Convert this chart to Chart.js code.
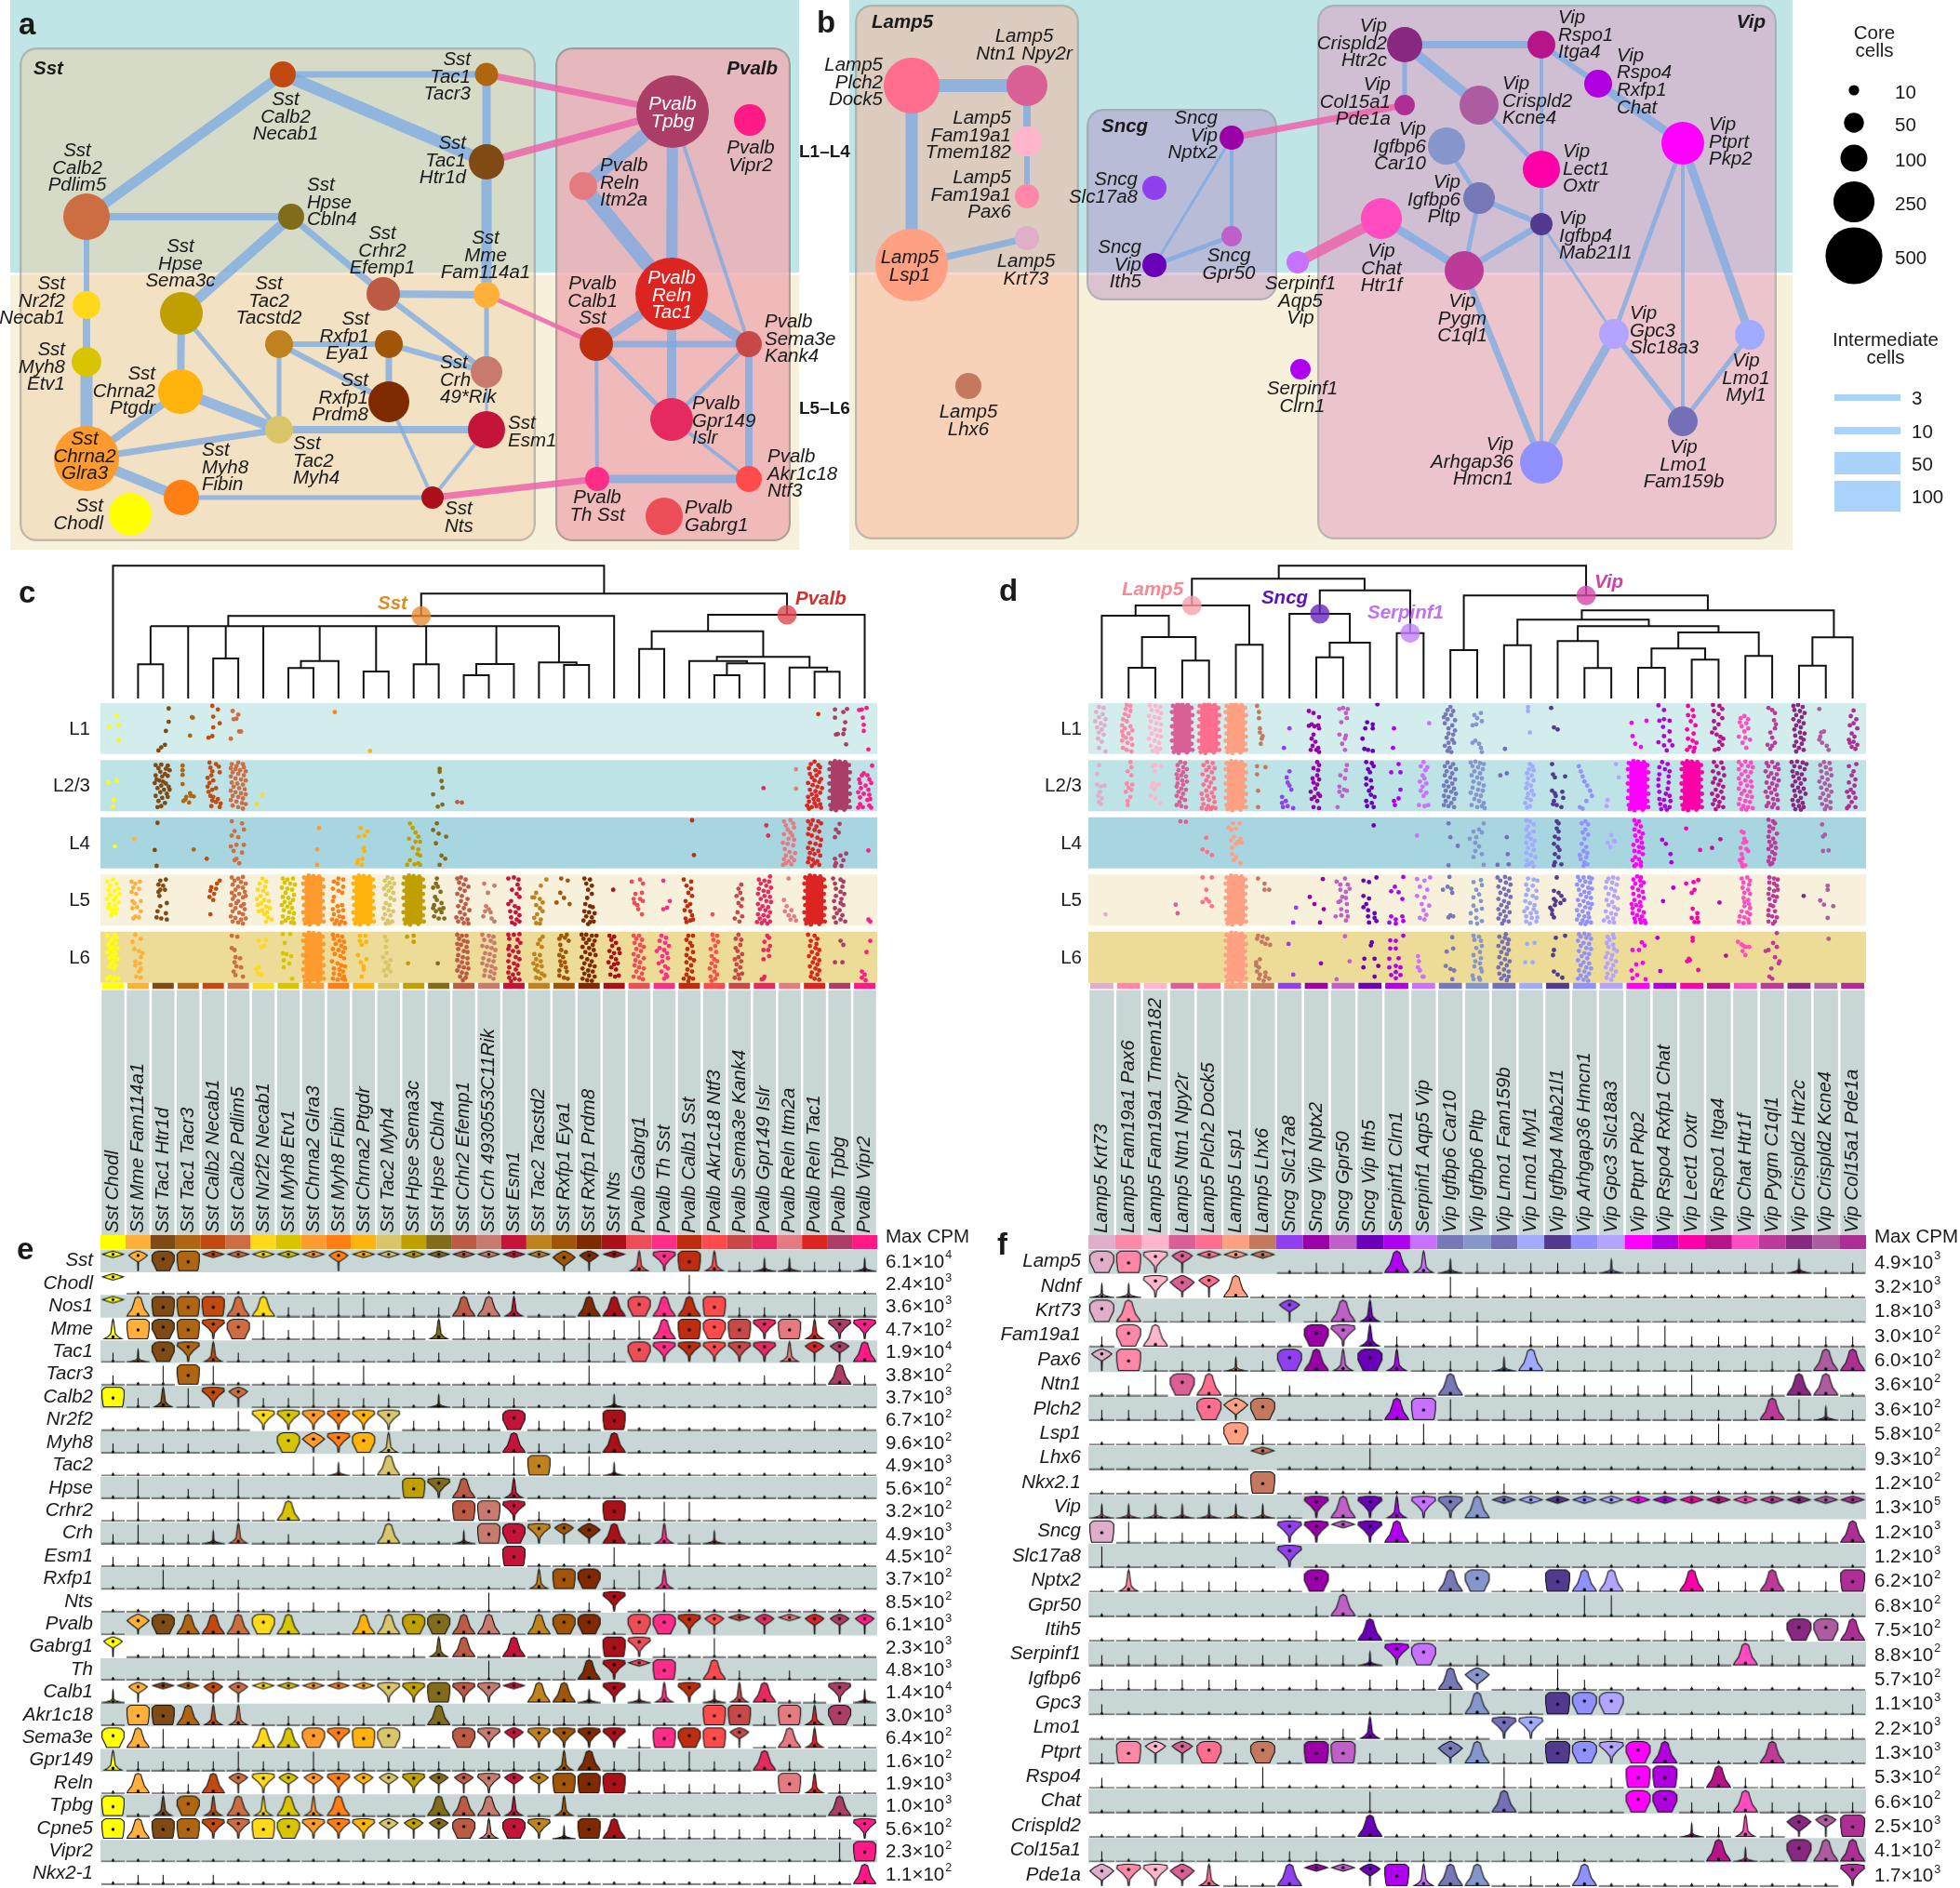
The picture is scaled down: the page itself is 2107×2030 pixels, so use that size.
<!DOCTYPE html>
<html>
<head>
<meta charset="utf-8">
<title>Interneuron types</title>
<script src="https://cdn.jsdelivr.net/npm/chart.js@4"></script>
<style>
body { margin: 0; background: #fff; width: 2107px; height: 2030px; overflow: hidden; position: relative; }
canvas { position: absolute; }
</style>
</head>
<body>
<script>
// ---------- panels a, b: network nodes ----------
const nodeIds = ['Necab1','Tacr3','Tpbg','Vipr2','Htr1d','Pdlim5','Cbln4','Itm2a','Efemp1','Mme','RelnTac1','Nr2f2','Sema3c','Tacstd2','Eya1','Calb1','Kank4','Crh','Etv1','Ptgdr','Prdm8','Islr','Esm1','Myh4','Glra3','Fibin','Nts','ThSst','Ntf3','Gabrg1','Chodl',
  'Dock5','Npy2r','Tmem182','Pax6','Lsp1','Krt73','Lhx6','Slc17a8','Nptx2','Gpr50','Ith5','Aqp5','Clrn1','Htr2c','Itga4','Rspo4','Pde1a','Kcne4','Car10','Pkp2','Oxtr','Pltp','Mab21l1','Htr1f','C1ql1','Slc18a3','Myl1','Fam159b','Hmcn1'];
const nodeX = [304,523,723,806,523,93,313,627,412,523,722,93,195,300,418,641,805,523,93,194,418,722,523,300,93,195,465,642,805,714,140,
  980,1104,1104,1104,980,1104,1041,1241,1324,1324,1241,1395,1398,1510,1657,1718,1510,1590,1555,1809,1657,1590,1657,1485,1574,1735,1881,1809,1657];
const nodeY = [80,80,120,129,174,233,233,200,316,317,316,328,337,370,370,370,370,400,389,421,432,451,462,462,493,535,535,515,515,555,553,
  92,92,152,211,285,256,415,202,148,254,285,282,397,48,48,90,113,113,157,154,182,213,241,235,291,359,360,453,497];
const nodeCells = [92,71,832,142,181,327,92,108,161,92,832,108,273,108,108,161,92,142,124,300,249,273,202,108,664,181,65,78,92,202,273,
  481,249,124,78,832,78,92,78,78,53,78,65,53,181,108,108,53,225,202,273,202,142,65,249,225,124,124,124,273];
const nodeColors = ['#c24a10','#b06510','#ab3d66','#ff1a86','#7f4a14','#cd6e42','#806c1a','#e57b80','#bc5a44','#ffb03a','#dc2420','#ffd91a','#c0a000','#c0821e','#a05508','#bf2d10','#c84848','#c87a6e','#d8c400','#ffb30d','#7f2a00','#e62a60','#c5143a','#d9c66a','#ff9a2e','#ff7f14','#aa1018','#ff2d88','#ff4b4b','#ec4d56','#ffff00',
  '#ff6e8e','#d95f95','#ffb6cc','#ff88a8','#ffa083','#dfaec9','#c4785e','#9040ee','#9b00a8','#bf5fc8','#6a00b8','#c870ff','#b000f0','#882880','#b8148a','#b000e0','#ae2e96','#ad5ca0','#8496cc','#ff00ff','#ff00a8','#7678b8','#523a90','#ff4cc0','#bd3a98','#b2a4ff','#a0aaff','#7470b8','#9090ff'];

// from, to, weight
const blueEdges = [['Pdlim5','Necab1',11],['Necab1','Tacr3',7],['Necab1','Htr1d',13],['Tacr3','Htr1d',9],['Htr1d','Mme',11],['Pdlim5','Cbln4',8],['Pdlim5','Nr2f2',6],['Cbln4','Sema3c',11],['Cbln4','Efemp1',7],['Efemp1','Mme',8],['Mme','Crh',5],['Efemp1','Crh',6],['Nr2f2','Etv1',8],['Etv1','Glra3',13],['Sema3c','Ptgdr',8],['Sema3c','Myh4',5],['Tacstd2','Eya1',6],['Tacstd2','Prdm8',6],['Tacstd2','Myh4',5],['Eya1','Crh',6],['Eya1','Prdm8',7],['Ptgdr','Myh4',11],['Ptgdr','Glra3',8],['Myh4','Esm1',8],['Myh4','Glra3',7],['Glra3','Fibin',11],['Fibin','Nts',5],['Prdm8','Nts',4],['Esm1','Nts',4],['Crh','Esm1',3],
  ['Tpbg','Itm2a',14],['Itm2a','RelnTac1',16],['Tpbg','RelnTac1',12],['Tpbg','Kank4',4],['RelnTac1','Calb1',10],['RelnTac1','Kank4',12],['Calb1','Kank4',7],['RelnTac1','Islr',10],['Calb1','Islr',5],['Kank4','Islr',5],['Kank4','Ntf3',8],['Islr','Ntf3',4],['Calb1','ThSst',4],['ThSst','Ntf3',9],
  ['Dock5','Npy2r',14],['Dock5','Lsp1',13],['Npy2r','Tmem182',8],['Tmem182','Pax6',6],['Lsp1','Krt73',7],['Nptx2','Ith5',3],['Nptx2','Gpr50',4],['Ith5','Gpr50',5],
  ['Htr2c','Itga4',8],['Htr2c','Pde1a',5],['Htr2c','Kcne4',11],['Kcne4','Oxtr',5],['Itga4','Oxtr',4],['Itga4','Rspo4',6],['Rspo4','Pkp2',9],['Oxtr','Mab21l1',4],['Mab21l1','Hmcn1',4],['Car10','Pltp',5],['Pltp','Mab21l1',6],['Pltp','C1ql1',5],['Htr1f','C1ql1',9],['C1ql1','Mab21l1',7],['Mab21l1','Slc18a3',3],['C1ql1','Hmcn1',7],['Slc18a3','Hmcn1',9],['Slc18a3','Fam159b',6],['Pkp2','Slc18a3',5],['Pkp2','Fam159b',4],['Pkp2','Myl1',9],['Myl1','Fam159b',5]];
const pinkEdges = [['Tacr3','Tpbg',7],['Htr1d','Tpbg',8],['Mme','Calb1',5],['Nts','ThSst',7],['Nptx2','Pde1a',7],['Aqp5','Htr1f',11]];

// text, x, y, anchor
const netLabels = [
  ['Sst|Calb2|Necab1',307,126,'center'],['Sst|Tac1|Tacr3',506,83,'right'],['Pvalb|Vipr2',807,169,'center'],['Sst|Tac1|Htr1d',501,173,'right'],['Sst|Calb2|Pdlim5',83,181,'center'],['Sst|Hpse|Cbln4',330,218,'left'],['Pvalb|Reln|Itm2a',645,197,'left'],['Sst|Crhr2|Efemp1',411,270,'center'],['Sst|Mme|Fam114a1',522,275,'center'],['Sst|Nr2f2|Necab1',70,324,'right'],['Sst|Hpse|Sema3c',194,284,'center'],['Sst|Tac2|Tacstd2',289,324,'center'],['Sst|Rxfp1|Eya1',397,362,'right'],['Pvalb|Calb1|Sst',637,324,'center'],['Pvalb|Sema3e|Kank4',822,365,'left'],['Sst|Crh|49*Rik',473,409,'left'],['Sst|Myh8|Etv1',70,395,'right'],['Sst|Chrna2|Ptgdr',167,421,'right'],['Sst|Rxfp1|Prdm8',396,428,'right'],['Pvalb|Gpr149|Islr',744,453,'left'],['Sst|Esm1',546,465,'left'],['Sst|Tac2|Myh4',315,496,'left'],['Sst|Chrna2|Glra3',91,491,'center'],['Sst|Myh8|Fibin',217,503,'left'],['Sst|Nts',478,557,'left'],['Pvalb|Th Sst',642,545,'center'],['Pvalb|Akr1c18|Ntf3',825,510,'left'],['Pvalb|Gabrg1',736,556,'left'],['Sst|Chodl',111,554,'right'],
  ['Lamp5|Plch2|Dock5',949,89,'right'],['Lamp5|Ntn1 Npy2r',1101,49,'center'],['Lamp5|Fam19a1|Tmem182',1087,146,'right'],['Lamp5|Fam19a1|Pax6',1087,210,'right'],['Lamp5|Lsp1',978,287,'center'],['Lamp5|Krt73',1103,291,'center'],['Lamp5|Lhx6',1041,453,'center'],['Sncg|Slc17a8',1223,203,'right'],['Sncg|Vip|Nptx2',1309,146,'right'],['Sncg|Gpr50',1321,285,'center'],['Sncg|Vip|Ith5',1227,285,'right'],['Serpinf1|Aqp5|Vip',1398,324,'center'],['Serpinf1|Clrn1',1400,428,'center'],['Vip|Crispld2|Htr2c',1491,47,'right'],['Vip|Rspo1|Itga4',1675,38,'left'],['Vip|Rspo4|Rxfp1|Chat',1738,88,'left'],['Vip|Col15a1|Pde1a',1495,110,'right'],['Vip|Crispld2|Kcne4',1615,109,'left'],['Vip|Igfbp6|Car10',1533,158,'right'],['Vip|Ptprt|Pkp2',1837,153,'left'],['Vip|Lect1|Oxtr',1680,182,'left'],['Vip|Igfbp6|Pltp',1570,215,'right'],['Vip|Igfbp4|Mab21l1',1676,254,'left'],['Vip|Chat|Htr1f',1485,289,'center'],['Vip|Pygm|C1ql1',1572,343,'center'],['Vip|Gpc3|Slc18a3',1752,356,'left'],['Vip|Lmo1|Myl1',1877,407,'center'],['Vip|Lmo1|Fam159b',1810,500,'center'],['Vip|Arhgap36|Hmcn1',1627,497,'right']];
const whiteLabels = [['Pvalb|Tpbg',723,122],['Pvalb|Reln|Tac1',722,318]];

const coreLegend = [10,50,100,250,500];
const coreLegendY = [97,132,170,217,275];
const edgeLegend = [3,10,50,100];
const edgeLegendTop = [424,459,486,517];
const edgeLegendBottom = [431,467,510,550];

// ---------- panels c, e: clusters ----------
const clustersC = ['Sst Chodl','Sst Mme Fam114a1','Sst Tac1 Htr1d','Sst Tac1 Tacr3','Sst Calb2 Necab1','Sst Calb2 Pdlim5','Sst Nr2f2 Necab1','Sst Myh8 Etv1','Sst Chrna2 Glra3','Sst Myh8 Fibin','Sst Chrna2 Ptgdr','Sst Tac2 Myh4','Sst Hpse Sema3c','Sst Hpse Cbln4','Sst Crhr2 Efemp1','Sst Crh 4930553C11Rik','Sst Esm1','Sst Tac2 Tacstd2','Sst Rxfp1 Eya1','Sst Rxfp1 Prdm8','Sst Nts','Pvalb Gabrg1','Pvalb Th Sst','Pvalb Calb1 Sst','Pvalb Akr1c18 Ntf3','Pvalb Sema3e Kank4','Pvalb Gpr149 Islr','Pvalb Reln Itm2a','Pvalb Reln Tac1','Pvalb Tpbg','Pvalb Vipr2'];
const colorsC = ['#ffff00','#ffb03a','#7f4a14','#b06510','#c24a10','#cd6e42','#ffd91a','#d8c400','#ff9a2e','#ff7f14','#ffb30d','#d9c66a','#c0a000','#806c1a','#bc5a44','#c87a6e','#c5143a','#c0821e','#a05508','#7f2a00','#aa1018','#ec4d56','#ff2d88','#bf2d10','#ff4b4b','#c84848','#e62a60','#e57b80','#dc2420','#ab3d66','#ff1a86'];
const genesE = ['Sst','Chodl','Nos1','Mme','Tac1','Tacr3','Calb2','Nr2f2','Myh8','Tac2','Hpse','Crhr2','Crh','Esm1','Rxfp1','Nts','Pvalb','Gabrg1','Th','Calb1','Akr1c18','Sema3e','Gpr149','Reln','Tpbg','Cpne5','Vipr2','Nkx2-1'];
const maxCpmE = [6.1e4,2.4e3,3.6e3,4.7e2,1.9e4,3.8e2,3.7e3,6.7e2,9.6e2,4.9e3,5.6e2,3.2e2,4.9e3,4.5e2,3.7e2,8.5e2,6.1e3,2.3e3,4.8e3,1.4e4,3.0e3,6.4e2,1.6e2,1.9e3,1.0e3,5.6e2,2.3e2,1.1e2];
// violin shape per cluster: . : | stems, k s t low bells, b h blocks, f d D l top-heavy
const violinE = [
 'ldhbl lllld lllll lllDd lsfbs :kk:: k',
 'l.... ..... ..... ..... ...|. ..... .',
 'ltbbb tt::| |:::t ts..t thttb ::.|: :',
 'sbhbf h|:|| .::s| :::|| :|tbh bfbsf f',
 ':khfs :.:.: ..::. :.::| :hfff ffsdd t',
 ':.|b| ..:|. |.... .:..| ..... .:.|t :',
 'b:s|f d::|: ::.k: ::... k.... ..... .',
 '..::: |ffff ff::: :h::: b.... ...:. .',
 '::::. :.hDf hs::: :t::: t.... ..... .',
 '..... ...|k |t.:. .|b:| k.... ..... .',
 '.|.:: |.... ..bft .s... ..... ..... .',
 ':|.:: |:t.: ::..b bf:.. b:||. ..... .',
 ':|::k s.:.. .t..k bhfdD t:s:k ..... .',
 '::::: ::::: :.:.: :b... |..|. ..... .',
 '..|.: :.... ..... ..sbh :|s.. ..... .',
 '...:: |.::: ..... |...: f.|.. ..... .',
 '.Dhtt tht.. tthht t.thh .hhfd ldldd d',
 'd.::: |:::. :.:st .t.:: bf:.| ..... .',
 '...:: :...: ..... |..:t flb.t :.:.. .',
 'kdlld dllll lffbf flttk fksfk st.:f k',
 '.bbts s.::: :.:t: ::::: ::..b b:bsh :',
 'ht|:: :tthf bh:.h fdfff f:bhb d.ts. .',
 's:::: |::|: ::::: ::: st :|:|: :t::: :',
 '.t::t dfddf ddfdd fddbb b.::: :.bs: .',
 'b.shs tstst ...tt ts.s. ..... ....t .',
 'btbbf fbhff fdddh shfkb t:::: ::::: f',
 '..... ..... ..... ..... ..... ....| b',
 '.::.: ..... ..... ..... ..... ..::. t'];

// ---------- panels d, f: clusters ----------
const clustersD = ['Lamp5 Krt73','Lamp5 Fam19a1 Pax6','Lamp5 Fam19a1 Tmem182','Lamp5 Ntn1 Npy2r','Lamp5 Plch2 Dock5','Lamp5 Lsp1','Lamp5 Lhx6','Sncg Slc17a8','Sncg Vip Nptx2','Sncg Gpr50','Sncg Vip Ith5','Serpinf1 Clrn1','Serpinf1 Aqp5 Vip','Vip Igfbp6 Car10','Vip Igfbp6 Pltp','Vip Lmo1 Fam159b','Vip Lmo1 Myl1','Vip Igfbp4 Mab21l1','Vip Arhgap36 Hmcn1','Vip Gpc3 Slc18a3','Vip Ptprt Pkp2','Vip Rspo4 Rxfp1 Chat','Vip Lect1 Oxtr','Vip Rspo1 Itga4','Vip Chat Htr1f','Vip Pygm C1ql1','Vip Crispld2 Htr2c','Vip Crispld2 Kcne4','Vip Col15a1 Pde1a'];
const colorsD = ['#dfaec9','#ff88a8','#ffb6cc','#d95f95','#ff6e8e','#ffa083','#c4785e','#9040ee','#9b00a8','#bf5fc8','#6a00b8','#b000f0','#c870ff','#7678b8','#8496cc','#7470b8','#a0aaff','#523a90','#9090ff','#b2a4ff','#ff00ff','#b000e0','#ff00a8','#b8148a','#ff4cc0','#bd3a98','#882880','#ad5ca0','#ae2e96'];
const genesF = ['Lamp5','Ndnf','Krt73','Fam19a1','Pax6','Ntn1','Plch2','Lsp1','Lhx6','Nkx2.1','Vip','Sncg','Slc17a8','Nptx2','Gpr50','Itih5','Serpinf1','Igfbp6','Gpc3','Lmo1','Ptprt','Rspo4','Chat','Crispld2','Col15a1','Pde1a'];
const maxCpmF = [4.9e3,3.2e3,1.8e3,3.0e2,6.0e2,3.6e2,3.6e2,5.8e2,9.3e2,1.2e2,1.3e5,1.2e3,1.2e3,6.2e2,6.8e2,7.5e2,8.8e2,5.7e2,1.1e3,2.2e3,1.3e3,5.3e2,6.6e2,2.5e3,4.1e2,1.7e3];
const violinF = [
 'hbfdl ll.:: .tsk: ::::k :::.: :k.:',
 'kkfDd t.... ...|: .:... ..... ..:.',
 'ht::: ::d:t s:.:: .:... ..... ....',
 ':ht:. :..hf s:.:| .:::: ||::: ::::',
 'db::: k:hts hs::: kt::: ::::: ::tt',
 '.:|ht |.:.. ...t. ::::: ::|:: :tt.',
 '::::h Dh... :tb|: ::::: ::::: t|k:',
 '...:: h:..: ::|:: ::::: :::|: ::::',
 '..... .l... |.... ..... ..... ....',
 '..... :b... ..... :.... ..... ....',
 'kkkkk kk.ft fsfft lllll lllll llll',
 'b|::: ::ffl ft::: ::::: ::::: :::t',
 '|.... :.f.. ..... ..... ..... ....',
 '.s::: :..h. :::th ..btt :.t:: t::b',
 '..... ...:t ..... ...|| ..... ....',
 '..... ...:. t.... ..... .:::: :hht',
 '::::: ::::: kfh.: ::::. ::::t ::::',
 '::::: :..:. :::tD ..|:. ..... ....',
 ':.... ..... ...|t ..bhh ..... ...:',
 '..... ..:.: s::.. ff::: ::::: ::::',
 ':bddh :h.bb :::Dt ::bhf ht... t...',
 ':.... :|... ..... |:..: bb:t: :.::',
 '..... .:... |.... t|... hh::t ::::',
 '...:. ::.:. t.... ..... ..k:s :Ddb',
 ':.::. ::::. ::::: :::.. ...tk .htt',
 'DffDs :.tll dbstt .:.t. ..... ...f'];

const layers = ['L1','L2/3','L4','L5','L6'];
const layerColors = ['#d3ecec','#bde3e6','#a7d6e1','#f7f1dc','#ecdc97'];

// dendrogram merges: left x, right x, top height, left bottom, right bottom (x in cluster units)
const dendroC = [[0,19.6,142.7,0,112.7],[12.3,26.9,112.7,88.7,90],[4.6,20,88.7,77.7,0],[1.5,17.8,77.7,77.7,77.7],[1.5,1.5,77.7,36.7,36.7],[3,3,77.7,0,0],[4.5,4.5,77.7,43,43],[6,6,77.7,0,0],[8.25,8.25,77.7,40.3,40.3],[10.5,10.5,77.7,29,29],[12.5,12.5,77.7,36.7,36.7],[15.3,15.3,77.7,37,37],[17.8,17.8,77.7,38.7,38.7],
  [1,2,36.7,0,0],[4,5,43,0,0],[7.5,9,40.3,32.7,0],[7,8,32.7,0,0],[10,11,29,0,0],[12,13,36.7,0,0],[14.5,16,37,25,0],[14,15,25,0,0],[17,18.5,38.7,0,36],[18,19,36,0,0],
  [23.75,30,90,72.3,0],[21.5,25.95,72.3,53.3,44.7],[21,22,53.3,0,0],[24.1,27.8,44.7,40.3,33.3],[23,25.3,40.3,0,37.7],[24.5,26,37.7,25,0],[24,25,25,0,0],[27,28.5,33.3,0,28.7],[28,29,28.7,0,0]];
const dendroD = [[6.6,18.06,142.7,128.7,110.7],[3.36,9.8,128.7,100,116.3],[1.26,5.5,100,89,57.7],[0,2.5,89,0,66],[1.5,3.5,66,33,40.7],[1,2,33,0,0],[3,4,40.7,0,0],[5,6,57.7,0,0],
  [8.13,11.5,116.3,91,70.3],[7,9.25,91,0,60],[8.5,10,60,44.3,0],[8,9,44.3,0,0],[11,12,70.3,0,0],
  [13.5,22.6,110.7,52,94.7],[13,14,52,0,0],[17.9,27.3,94.7,84.7,65.7],[15.5,20.4,84.7,57.3,77.7],[15,16,57.3,0,0],[17.75,23,77.7,61.7,71],[17,18.5,61.7,0,32.7],[18,19,32.7,0,0],[21.5,24.5,71,53.7,45.7],[20.5,22.5,53.7,33,41.7],[20,21,33,0,0],[22,23,41.7,0,0],[24,25,45.7,0,0],[26.5,28,65.7,35.3,0],[26,27,35.3,0,0]];

// strip dots: each row is [cluster, offset, depth%, offset, depth%, ...]
const stripCL1 = [[0,4,25,-4,46,6,44,6,73],[2,6,11,6,37,3,55,2,82,-2,87,-5,93],[3,5,29,2,64,4,28],[4,-1,6,5,13,0,27,7,40,0,48,-1,65,-5,68],[5,-6,16,0,23,-5,32,1,56,-8,70,-2,31,3,56],[9,-4,18],[10,7,94],[28,4,22],[29,-5,13,8,12,4,18,-5,29,6,38,5,52,-2,61,4,61,7,81,-4,62],[30,-6,14,2,10,-2,29,-1,43,-1,55,4,91,-3,13]];
const stripCL2 = [[0,-5,44,4,40,1,78,0,91],
 [2,-8,10,-2,9,5,11,-5,16,3,17,7,20,-3,23,2,27,-8,30,-1,32,5,31,-7,38,-4,40,0,42,-9,45,3,46,-2,50,6,52,-6,55,1,58,7,58,-3,63,4,66,-8,70,-1,74,5,72,-5,80,2,84,-2,90,-6,92],
 [3,-6,11,-6,20,-6,29,-6,47,2,65,-3,77,6,71,-5,80,3,70,1,83,-2,72],
 [4,-4,5,3,8,6,13,-3,15,-1,22,7,24,-2,30,-6,35,0,40,-4,45,-6,52,3,55,-1,58,-5,62,-3,70,0,72,5,76,-1,79,3,82,8,85,7,92,-2,90],
 [5,-7,8,0,5,5,8,-2,12,6,14,-8,16,-3,18,2,20,8,22,-6,24,0,27,6,30,-8,32,-3,36,3,38,8,40,-7,44,-1,46,5,48,-5,52,1,55,7,57,-8,60,-3,63,3,65,8,67,-6,70,0,72,5,75,-8,78,-2,81,4,84,8,86,-6,89,0,92,5,95],
 [6,-1,68,-7,86],[13,1,23,3,41,4,54,-6,67,4,87,-1,91,1,17],[14,-7,82,-2,83],[26,-1,55],[27,7,18,7,56],
 [28,0,3,-4,8,4,10,6,14,-6,16,1,20,5,24,-5,27,2,30,-3,34,7,37,0,40,5,43,-7,45,-2,49,3,52,8,55,-5,58,1,61,6,64,-3,67,2,70,-7,72,-1,76,4,78,-6,81,0,84,6,86,-8,89,-3,92,2,90,7,93,-6,95],
 [30,-3,30,-1,26,3,30,-6,38,-5,45,5,38,7,45,1,50,-4,55,4,58,-7,63,-1,66,5,68,-5,73,3,78,6,76,-5,86,-2,92,-7,93,5,89,7,93,8,11]];
const stripCL4 = [[0,2,57],[1,-4,43],[2,-6,11,-9,64,-7,95],[3,6,63],[4,-7,81],
 [5,-7,8,4,12,-4,27,6,24,-7,36,0,39,-8,57,-2,54,6,54,-5,66,4,69,-2,81,1,90,-4,84],
 [8,6,21,4,63,4,93],[10,-3,21,4,28,-5,38,1,36,0,60,1,66,-6,84,-1,81,-2,93,-7,90],
 [12,-4,12,-1,21,2,30,5,38,-5,42,2,48,7,48,-1,60,5,63,4,72,7,75,-4,84,5,90,7,93,-7,93,1,92],
 [13,-2,12,-6,25,0,32,8,38,-3,51,3,75,7,81,1,93],[23,3,6,5,74],[26,2,16,4,36],
 [27,-6,8,1,6,4,12,-4,16,5,20,-2,24,1,30,-6,33,3,36,-1,42,5,44,-7,50,-2,52,4,55,-5,62,0,68,6,70,-4,75,2,78,-6,82,-1,86,5,84,-4,90,2,92,-7,93],
 [28,-7,8,-2,6,4,8,7,12,-4,14,2,18,-6,22,0,25,5,28,-7,33,-3,36,3,40,7,44,-5,50,1,52,6,55,-7,60,-2,63,4,66,-5,70,0,72,6,75,-6,80,-2,83,3,86,-7,88,0,90,5,93,-3,95],
 [29,0,13,-4,24,-1,30,-5,39,7,71,1,75,-5,81,-4,90,4,84,-5,95,2,95],[30,4,65]];
const stripCL5 = [[0,-6,14,0,10,4,18,-3,22,6,28,-5,30,2,32,7,38,-3,40,3,44,-6,48,1,50,6,54,-4,58,2,60,-3,66,4,68,-1,72,3,76,-2,80,1,70,-5,64],
 [1,-7,14,-3,18,2,14,-5,26,1,28,-7,34,-2,38,-6,52,3,52,-4,56,-6,66,-1,64,3,72,-3,82,-5,86,1,84],
 [2,-3,12,3,10,-5,20,0,22,-3,30,-5,34,2,30,-4,42,4,56,-3,62,-6,72,3,76,-7,84,-2,86,4,88],
 [4,7,12,4,18,-2,25,3,28,-3,32,1,38,-4,44,0,50,-3,78],
 [5,-7,6,0,8,5,5,-4,12,3,15,8,18,-6,20,0,24,5,26,-3,30,7,34,-7,36,1,38,-4,42,5,45,8,42,-6,48,0,52,-2,56,6,58,-8,60,3,62,-3,66,7,68,-6,72,1,75,5,78,-8,82,-3,85,3,88,8,86,-6,92,0,94,5,96],
 [6,-1,8,3,14,-4,18,2,24,-6,30,0,32,4,38,-3,42,-7,48,1,50,6,52,-2,56,-6,60,3,63,7,66,-1,70,4,74,-5,72,1,78,5,84,9,88,3,92],
 [7,-6,8,-1,10,5,8,-4,16,2,18,7,20,-7,26,-1,28,4,30,-3,36,6,40,-6,44,0,46,5,50,-4,54,2,56,-7,60,-1,63,4,66,-5,70,1,74,6,76,-6,82,0,85,5,86,-3,90,3,94,-7,94,6,95],
 [9,0,8,5,10,-5,14,-1,18,5,24,-6,28,0,32,4,36,-5,44,-6,52,-1,62,4,60,-6,68,0,72,5,70,-5,78,1,82,5,84,-7,88,-2,90,3,92,7,95,-4,96,1,97],
 [11,-1,6,4,8,-4,12,1,16,6,18,-2,22,3,26,-5,28,0,32,5,36,-3,40,2,46,6,50,-3,56,1,60,-5,66,0,70,5,72,-4,78,2,80,-6,86,-1,90,4,92,-3,96,1,95],
 [13,-2,8,-3,18,-1,24,-6,26,2,34,-4,44,-2,50,3,56,-5,60,-6,66,1,68,5,66,-3,72,3,74,-5,82,0,86,6,86],
 [14,-7,8,-3,6,2,10,-5,16,0,20,5,24,-4,28,1,32,-7,38,-2,42,4,48,-3,52,2,58,-6,62,0,66,6,70,-4,74,1,78,-8,84,-2,86,4,88,-6,92,0,95,5,96],
 [15,-5,18,6,22,-1,36,-3,62,0,68,-4,72,2,74,-6,82,3,86,6,92],
 [16,-6,8,0,6,5,10,4,20,6,28,-2,30,3,38,6,44,-3,52,-6,58,1,62,5,66,-4,72,2,74,6,80,-3,84,3,88,6,92,-2,94,1,97],
 [17,8,10,2,22,-3,36,-7,45,1,48,-5,45,4,55,-3,60,1,66,4,72,-2,78,-5,85,2,88,-3,95,1,96],
 [18,-3,8,4,12,-4,36,0,46,-8,55,6,58],
 [19,-5,8,1,10,-3,18,3,22,-1,30,3,38,-2,46,-4,58,1,62,4,64,-5,72,0,74,6,76,-3,82,3,84,-6,90,1,93,5,92,-1,97],
 [20,-1,30],[21,-8,14,1,10,4,18,-4,38,3,36,-6,48,1,48,4,52,-5,56,-2,60,-1,68,3,78],[22,-1,12,6,52,3,65,-1,68],
 [23,-6,10,2,14,-3,22,2,28,-1,36,3,42,-4,52,1,58,-2,62,-5,70,1,72,3,80,-4,86,1,90,-3,93,4,88],[24,-2,78],
 [25,2,20,-1,28,1,36,-3,42,3,48,-1,56,2,62,-2,74,3,82,-5,86,0,92],
 [26,6,4,-6,10,0,12,5,14,-4,18,2,22,7,26,-6,28,-1,32,4,34,-7,38,0,42,6,44,-4,48,2,52,7,54,-7,58,-2,62,4,64,-5,68,1,70,6,74,-7,78,-1,80,4,82,-5,86,0,90,6,92,-8,93,-3,95,3,96],
 [27,-1,8,-6,50,-3,62,2,70,-5,72,-1,80,5,82,1,88,7,90],
 [29,-7,8,1,10,4,14,-5,18,3,24,-4,28,1,34,5,38,-4,42,2,48,-6,52,1,56,4,60,-5,66,0,70,-3,76,3,80,-6,84,1,88,6,92,-4,94],[30,4,88,6,92]];
const stripCL6 = [[0,-6,8,2,6,4,12,-1,14,-3,20,3,22,-5,26,0,30,5,32,-3,34,1,38,-6,40,3,44,-2,46,1,50,-4,52,5,54,0,58,-2,62,3,66,-4,68,1,72,-3,88,2,90,6,92,-6,92,0,95],
 [1,-3,6,3,14,-6,20,-4,34,1,38,5,42,3,50,-3,58,2,62,-3,66,3,72,1,78,-2,88,3,90],
 [5,-7,8,-1,10,-7,32,-4,36,-3,50,2,52,-4,60,-2,68,3,70,-5,78,-3,85,5,88],[6,3,16,-5,18,-2,30,1,28,-8,74,-5,70,-6,82,-2,84],[7,-6,5,2,5,-4,22,-6,42,-2,44,3,48,-5,56,1,62,-5,70,4,92],
 [9,-6,6,-1,8,4,10,-5,14,1,18,6,20,-3,24,3,28,7,32,-6,34,0,36,5,40,-4,44,2,48,6,52,-7,58,-1,62,3,66,7,68,-5,72,1,74,5,78,-5,82,1,84,6,88,-6,92,-1,94,4,92,7,94],
 [10,-4,8,2,8,-4,18,3,20,-2,26,-6,46,3,54,-3,60,0,68,0,74,-2,88],[11,-4,10,-2,18,-3,30,-2,42,-6,50,2,56,-3,60,0,66,-1,72,-5,76,2,78,-3,86],[12,-7,10,0,8,0,20,-6,62],[13,-1,62],
 [14,-7,6,-2,8,3,8,-5,14,0,18,4,20,-7,24,-3,26,3,30,-6,34,0,38,4,40,-6,46,-1,50,4,52,-7,56,-2,60,4,62,-5,68,0,70,5,72,-7,76,-2,80,3,82,-4,88,2,90,-1,95],
 [15,-7,6,0,8,5,10,-5,16,2,18,6,22,-7,28,-2,30,3,32,7,36,-4,42,1,44,6,48,-6,52,0,56,5,58,-7,62,-2,66,3,68,7,72,-4,76,2,78,6,82,-5,86,1,88,5,92],
 [16,-6,6,0,6,6,5,-5,14,4,16,7,22,-5,28,3,30,-6,34,-1,38,5,40,-5,46,2,50,6,54,-6,58,0,62,4,66,-5,70,2,74,-6,80,-1,84,5,82,-5,90,1,92,6,94,-3,97],
 [17,4,10,1,16,-1,24,3,30,-5,44,1,46,-3,54,2,58,-6,62,-2,66,3,68,-4,74,-1,78,3,82,-3,90,1,92,6,86],
 [18,-3,8,3,6,-5,14,1,12,5,18,-4,26,-3,36,2,40,-5,46,-1,50,-4,58,1,60,-3,66,2,70,-5,76,3,78,-5,86,0,90,4,92],
 [19,-8,6,-3,6,3,8,8,8,-6,14,0,16,6,18,-3,22,4,26,-7,30,0,32,5,36,-4,40,1,44,7,46,-8,50,-2,54,3,58,-5,62,1,66,6,68,-7,72,-1,76,4,78,-5,82,0,86,6,88,-7,92,-2,95,3,96],
 [20,-5,8,0,10,-3,16,2,22,-2,28,5,34,-5,38,0,42,6,42,-3,50,2,54,-6,60,0,64,4,62,-3,70,2,74,-4,84,1,88,5,86],
 [21,-6,8,0,8,-3,14,3,16,-5,22,1,26,5,30,-3,34,2,38,-6,44,-1,48,5,52,-4,56,1,60,-5,66,0,70,5,72,-3,78,3,82,-6,88,0,90,4,93],
 [22,-3,8,2,12,-5,18,1,22,5,28,-5,32,0,36,-8,38,3,42,-2,48,4,52,-2,58,-6,62,1,68,4,72,-3,78,2,84,0,92,3,88],
 [23,-1,8,4,8,-3,16,1,22,3,28,-2,34,4,40,-3,46,1,52,5,56,-3,60,2,66,-2,74,3,78,-3,84,0,90,-6,92,4,92,-1,97],
 [24,-2,6,3,8,-1,16,4,20,1,28,-4,34,2,40,-3,48,0,54,3,58,-3,62,1,68,-5,72,0,78,3,84,-4,88,1,92,-3,96],
 [25,-1,6,-4,14,2,16,1,26,-4,32,-2,38,3,44,-1,50,-5,54,2,58,-3,64,1,70,-4,76,-1,84,3,82,-5,90,0,92],
 [26,3,8,5,12,0,20,6,28,4,36,-1,36,5,48,-1,54,0,88,-3,93,-1,92],
 [28,-7,6,0,8,3,14,-4,18,2,24,-5,28,1,32,5,36,-3,40,3,44,-6,48,0,52,5,56,-2,60,3,64,-5,68,1,72,5,76,-3,80,3,84,-4,88,0,92,5,94],
 [29,1,18,4,26,-5,60,3,60],[30,6,18,2,40,-3,78,0,84,-3,90,1,95]];
const denseC = [[1,29],[3,8],[3,10],[3,12],[3,28],[4,8]];

const stripDL1 = [[0,-3,8,2,10,-6,18,1,22,-3,28,4,32,-7,36,-1,40,3,44,-5,48,0,52,-3,58,2,62,-4,70,0,76,-3,88,4,95],
 [1,-2,4,2,6,-3,12,2,16,-4,22,0,26,-6,32,-2,36,-7,44,-4,50,2,46,-7,56,0,60,4,54,-6,64,-3,68,3,70,-7,74,-1,78,4,82,-6,88,-2,92,3,95],
 [2,-6,5,0,6,5,8,-4,14,2,16,6,20,-7,26,-1,28,4,30,-5,36,1,40,6,42,-6,48,0,52,5,54,-4,60,2,64,6,66,-7,70,-1,74,4,78,-5,84,1,88,5,90,-3,94,2,96],
 [6,-6,6,-4,18,-4,30,-3,50,-3,58,0,65,-1,70,-2,80],[7,0,50,-6,88],
 [8,-8,16,-3,20,3,28,-5,42,2,44,-2,46,-8,45,3,50,-3,62,-5,70,-1,76,-4,84,2,88,-6,92,0,92,3,96],
 [9,0,10,5,12,3,20,-4,12,4,30,-2,38,-4,62,3,64,2,70,-1,80,2,92],[10,8,3,-3,38,3,42,-5,50,3,50,-8,70,-6,90,-2,92,3,94],[11,-3,50,-4,88],[12,6,40],
 [13,0,8,-3,14,3,16,-5,22,1,24,-7,28,-3,32,5,34,-6,40,2,44,-2,50,5,54,-2,60,3,62,-4,68,2,72,-2,78,4,78,-6,84,-1,88,-3,94,1,96],
 [14,-3,24,4,20,0,30,5,36,-5,44,-1,42,-2,74,-5,78,2,80,4,88,5,96],[15,1,90],[16,-3,8,-3,16,-1,58],[17,-7,10,-4,48,0,52],
 [20,-7,39,9,35,-6,65,-3,80,3,86],[21,-7,5,-1,14,-1,32,-6,35,5,35,-2,47,5,56,-1,65,-7,77,-1,83,5,74,8,83,2,93],
 [22,-4,6,1,14,-4,24,2,26,-1,36,4,44,-5,52,2,60,-4,70,1,74,5,78,-2,86,3,88,-5,92,2,95],
 [23,-6,4,1,6,4,12,-5,16,0,22,4,30,-5,36,0,42,-4,50,-7,58,-2,62,2,66,5,70,1,76,4,82,-4,92,0,90],
 [24,-1,26,-5,30,3,32,-6,38,1,40,-4,46,3,50,-1,56,-7,66,0,68,5,72,-3,78,1,88],
 [25,-4,10,0,14,3,20,2,34,4,42,3,50,-2,58,0,68,3,78,-5,82,0,84,-2,90],
 [26,-6,6,-1,4,4,8,-5,14,1,16,6,20,-3,24,3,28,-6,32,0,36,5,40,-3,44,2,48,-5,52,1,58,6,60,-4,64,2,68,5,72,-3,76,3,80,-5,84,0,88,5,92,-3,95],
 [27,-7,12,-5,58,-2,56,-6,66,-7,72,-4,78,1,84,3,92],
 [28,1,15,-2,26,4,32,1,40,-3,44,5,50,-1,60,2,66,-4,72,1,76,5,82,-1,86,3,90,-3,78]];
const stripDL2 = [[0,-3,10,-5,27,-5,48,-1,52,3,50,-2,62,-4,70,0,75,-3,82,-1,86],[1,2,4,3,14,-1,22,3,30,-2,46,4,48,0,54,3,58,-3,62,2,72,-1,80,-1,88],[2,0,10,6,12,-3,12,-1,22,-3,45,-4,52,1,50,4,48,-1,58,-5,70,5,84,0,75],
 [3,-2,4,3,6,-5,10,1,14,5,18,-4,20,1,24,-6,28,-1,30,4,32,-5,36,0,40,5,42,-5,46,1,48,-6,52,-1,56,4,58,-4,62,1,66,-6,70,-1,74,3,78,-3,82,-6,88,-1,90,4,92],
 [4,-2,4,4,6,-6,10,0,14,6,16,-3,20,3,24,-7,28,-1,32,5,36,-3,40,2,44,-6,48,0,52,6,56,-3,60,3,64,-8,66,-2,70,5,72,-7,76,0,78,6,82,-6,86,-1,90,4,92,-8,94,-3,96,2,96,7,94],
 [6,-6,12,3,14,-6,28,-5,60,-5,92],[7,0,22,-3,34,-2,44,0,50,2,58,-8,72,-4,80,-8,84,-2,90,4,94,-7,92],
 [8,1,4,3,10,-3,16,2,20,1,30,-4,36,3,38,-3,44,1,48,-1,56,-6,62,2,66,4,70,-2,72,-5,76,1,80,-3,92,3,94],[9,4,10,3,20,-3,30,2,36,-4,52,1,58,-4,62,4,60,-1,70,-6,92],
 [10,-4,4,2,6,4,12,-2,18,0,24,-4,36,1,40,-4,48,2,54,-1,60,1,68,5,72,-4,80,2,84,-3,90,4,92],[11,2,8,-6,24,4,24,4,58,2,75,-3,80,-2,88],
 [12,0,4,-3,12,4,14,2,20,-1,30,1,36,-4,42,3,46,-1,52,-3,60,3,64,0,70,-5,88,1,90,5,88],
 [13,-3,5,3,8,-6,12,0,14,6,18,-4,22,2,26,-6,30,0,34,5,38,-4,42,2,46,-7,50,-2,52,4,56,-5,60,1,62,6,66,-7,70,-2,72,4,76,-5,80,1,84,-7,88,-2,90,4,92],
 [14,-7,5,-2,3,3,6,7,8,-5,12,1,14,6,18,-3,22,3,26,-6,30,0,34,5,36,-4,42,2,46,7,50,-5,54,1,58,6,60,-7,64,-1,68,4,70,-3,76,2,80,7,84,-6,88,0,92,5,90,8,94],
 [15,-4,30,3,26],[16,-1,8,2,12,-2,18,3,20,-4,26,1,30,-3,36,3,40,-4,46,0,50,-5,55,1,60,-3,66,3,68,-4,74,0,78,-6,84,-1,90,-4,93],
 [17,-6,8,-5,28,-3,34,8,32,-6,60,-3,65,-2,70,5,62,6,74,-4,80,-5,86,-1,88,4,92],[18,-6,12,-4,22,-2,32,0,42,3,50,6,60,8,70,2,80,-5,92,-2,95],[19,5,8,8,34,-4,78,-5,90],
 [21,-3,4,3,8,-6,14,0,18,5,22,-6,28,4,32,-7,38,4,44,-7,50,3,56,-6,62,1,66,5,70,-6,76,-1,78,6,80,-5,86,0,90,5,92,-4,96,2,97],
 [23,-5,4,3,5,-2,12,5,16,-6,22,0,26,6,30,-4,36,2,40,-6,44,0,48,5,52,-3,58,3,62,-7,66,-1,70,5,74,-4,78,1,82,-6,86,0,90,5,92,-3,96],
 [24,-7,4,0,3,6,5,-4,10,3,12,8,14,-7,18,0,22,6,24,-4,28,3,32,-7,36,0,40,6,42,-5,46,2,50,7,52,-7,56,-1,60,5,62,-4,66,2,70,7,72,-6,76,0,80,5,82,-7,86,-2,90,3,92,8,94,-4,96,1,97],
 [25,-6,6,0,4,6,8,-4,12,3,14,7,18,-7,22,-1,26,5,28,-4,32,2,36,7,40,-6,44,0,46,5,50,-3,54,3,58,-7,62,-1,64,5,68,-5,72,1,76,6,78,-4,84,2,86,-6,90,0,92,6,94],
 [26,-8,4,-2,3,4,5,8,8,-5,12,1,14,6,18,-7,22,-2,26,3,28,-6,32,0,36,6,38,-4,42,2,46,-7,50,-1,54,5,56,-5,60,1,62,7,66,-4,70,2,74,-7,78,-1,80,4,84,-6,88,0,90,5,92,-4,96,2,97],
 [27,-2,4,4,6,-6,10,0,14,5,18,-5,22,1,26,6,30,-4,34,2,38,-7,42,-1,46,4,50,-5,54,1,58,6,62,-3,66,3,70,-6,74,0,78,5,82,-4,86,1,90,-1,96,5,94],
 [28,4,8,-4,12,1,22,-1,30,3,38,-4,44,2,50,-2,58,-6,62,1,64,-4,72,3,74,-1,82,-4,90,3,92,-6,94]];
const stripDL4 = [[3,-2,8,4,9],[4,-3,40,-7,63,-2,68,3,74],[5,-8,20,-3,12,4,12,-5,25,0,22,-2,38,5,42,-5,45,2,48,6,50,-4,60,0,52,-4,72,0,78,-2,84,5,90],[10,4,16],[12,-7,36],[13,-2,12,0,39,8,56,-2,94],
 [14,7,12,2,24,-4,28,-8,42,-1,39,5,30,-2,50,2,57,-2,66,5,72,-4,78,7,93],[15,3,39,4,72,-7,93,5,92],
 [16,-5,6,-1,8,3,14,-3,18,-5,24,3,28,-2,32,-4,38,0,42,4,46,-5,50,2,54,-3,60,3,64,-5,70,0,74,5,78,-4,84,1,88,-2,92,-5,94,3,96],
 [17,-1,8,1,12,-1,22,1,28,-3,38,1,42,-4,52,0,58,2,64,-3,72,1,78,-3,88,4,92,-4,94],
 [18,1,8,-3,12,4,14,1,24,-2,30,4,34,0,42,-3,52,2,58,-1,66,3,70,-5,74,2,78,-4,82,0,88,3,92,-1,95],[19,0,35,-4,50,4,48,-1,58,3,46],
 [20,-4,6,1,8,-2,14,3,18,-4,24,1,28,5,32,-3,36,3,40,-1,46,4,50,-5,54,1,58,5,60,-4,66,1,68,5,72,-3,78,1,82,-6,84,3,88,-2,92,-4,95,3,95],
 [21,-3,44,1,52,6,72,7,88],[22,-6,22,9,64],[23,-7,60,2,43],[24,-4,28,-2,30,-1,42,-2,50,1,48,-5,60,1,62,3,66,-4,72,-3,80,-6,84,-4,90,-3,96,0,94],
 [25,-4,5,1,8,3,12,-3,18,1,22,-3,28,5,32,-4,38,1,42,-3,48,3,50,-1,56,4,60,-4,62,0,68,3,72,-3,78,2,82,-4,86,0,90,-2,92],[27,-4,14,-1,34,-3,38,-3,66,3,65]];
const stripDL5 = [[0,4,78],[3,-7,59,-5,76],[4,-7,6,3,6,-3,30,-3,48,-7,54,0,53,3,62],[6,-5,8,2,18,2,30,7,30],[7,7,65,4,94],[8,7,9,-7,44,-2,58,8,68,4,94],
 [9,-7,14,2,8,-3,20,5,20,-3,30,3,34,7,28,-1,44,3,46,-3,52,4,58,-5,54,-2,68,4,72,-2,80,5,82,-8,82,3,90],
 [10,-7,12,-1,15,7,6,-7,42,-1,47,-4,58,-2,70,5,76,-2,82,5,85,-1,94,7,91,-7,64],
 [11,7,5,-2,24,-6,33,2,35,6,48,-6,82,-1,88,6,82,-8,94,-1,96,7,91],
 [12,-7,9,1,12,7,6,-4,24,4,30,1,45,-7,42,-2,58,6,61,0,70,3,79,-4,85,1,88],[13,-1,5,-3,24,-8,30,1,28,2,36,-2,84,3,82,0,80],
 [14,4,11,-4,15,5,21,-1,30,2,39,-4,45,4,52,-4,61,-1,70,5,67,-7,76,-1,85,5,91,-7,94,0,96],
 [15,-7,6,1,5,6,8,-4,12,2,16,7,20,-6,24,0,28,5,32,-4,36,2,40,7,44,-6,48,0,52,5,56,-3,60,3,64,-6,68,0,72,6,74,-4,78,2,82,-6,86,0,90,5,92,-2,96],
 [16,-3,8,3,10,7,12,-5,20,2,22,-3,30,6,32,-5,40,2,42,6,46,-6,52,-1,56,4,60,-4,66,3,68,-7,72,0,76,6,74,-5,82,1,85,7,84,-5,92,-1,96,6,92],
 [17,-1,6,-4,32,1,36,4,42,-4,48,-2,52,7,50,3,56,-3,60,-8,65,-6,70,-6,78,-4,84],
 [18,-7,5,-1,6,5,6,8,8,-5,12,1,14,6,16,-8,20,-2,22,4,26,8,28,-6,30,0,34,5,36,-4,40,2,44,7,46,-7,50,-1,52,4,56,8,58,-5,60,1,64,6,66,-8,70,-2,72,4,76,-6,80,0,82,5,84,-8,88,-2,90,3,92,7,94,-4,96,1,97],
 [19,-3,8,2,6,7,8,-5,14,1,16,6,20,-6,26,0,28,4,32,-3,38,3,42,7,46,-5,50,1,54,-3,60,3,64,7,68,-6,72,0,76,5,78,-4,84,2,86,-8,90,-2,93,3,94],
 [20,-1,4,3,6,-5,10,2,12,6,16,-3,18,3,22,-6,26,0,30,5,34,-5,38,1,42,6,46,-4,50,2,54,-7,58,-2,60,3,62,-6,66,1,70,6,74,-6,76,-1,80,4,82,-4,86,2,88,7,90,-3,93,3,94,8,95],
 [21,9,26,-2,52],[22,-6,18,2,15,7,11,3,30,0,36,1,67,6,76,0,85,6,85,3,93,7,93],[23,1,55],
 [24,-4,8,2,6,5,12,-2,16,4,20,-3,26,3,30,-1,36,5,38,-2,46,3,50,-1,54,4,58,-1,62,5,66,-4,72,2,74,5,78,-6,82,-1,84,3,88,-7,92,-2,95,4,94],
 [25,-3,6,2,8,6,10,-3,16,2,18,5,22,-3,28,2,32,6,30,-4,38,1,42,5,44,-3,48,3,52,-2,60,1,62,-4,70,3,72,-4,80,0,82,5,84,-4,92,3,92,1,96],[26,5,42],[27,2,22,2,30,-6,51,-2,59,8,62,2,85]];
const stripDL6 = [[6,-5,8,0,10,-6,14,5,14,-1,20,3,24,8,26,-3,54,-7,60,-7,66,-4,70,-6,78,3,80,-3,84,3,88,-4,92,1,96,7,92],[7,-1,24,4,84],[8,5,62],[9,-7,93,2,9,7,58],
 [10,2,21,1,27,-6,53,5,53,-7,70,9,67,5,88],[11,7,8,-7,17,-1,18,-7,33,-1,33,-8,53,2,52,-8,70,-1,67,4,70,-1,79,-6,85,4,85,-1,91],[12,-6,48,-5,58,-6,70,-4,76,-1,88,0,88],
 [13,2,11,3,33,-4,39,-5,67,0,73,4,76,2,93],[14,-4,8,2,10,-3,16,4,18,5,28,-1,32,3,40,-4,46,4,52,-2,58,3,62,-3,68,4,72,5,78,-5,86,2,90,-4,93,3,94],
 [15,2,5,-5,10,1,12,5,16,-2,20,4,24,-6,28,0,32,5,36,-3,40,3,44,-5,50,1,54,6,58,-3,62,3,66,-6,70,0,74,5,78,-5,82,0,86,5,88,-3,92,3,95],
 [16,-4,24,4,22,-6,60,2,60],[17,8,8,-2,12,-4,36,-5,46,-4,78,0,84,5,90],
 [18,-6,5,0,4,5,6,-4,10,2,12,7,14,-7,18,-1,22,5,24,-4,28,2,32,7,34,-6,38,0,42,5,44,-3,48,3,52,-7,56,-1,60,5,62,-4,66,2,70,7,72,-6,76,0,78,5,82,-4,86,2,88,-7,92,-1,94,4,96],
 [19,2,6,-4,10,3,12,-2,16,-5,22,2,26,-3,30,3,34,6,38,-4,42,1,46,-6,50,0,54,5,58,-4,62,2,66,-6,70,0,74,5,78,-4,82,2,86,-5,90,0,94],
 [20,4,21,7,27,1,36,-6,36,-2,64,-7,76,5,61,-1,85,8,93,-6,91],[21,-8,12,-5,77],[22,1,12,1,18,-5,58,-2,56,-3,53,7,75],[23,8,47],[24,-8,20,-4,25,0,30,4,30,-3,38,0,46,-2,28],[25,5,3,1,22,5,30,-4,36,-7,38,3,50,7,62,8,58,-1,72,0,92,-3,88],[27,3,14]];
const denseD = [[0,3],[0,4],[0,5],[1,5],[1,20],[1,22],[3,5],[4,5]];
// dots along the rim of a packed column (offset, depth%)
const denseRim = [-10,6,10,10,-11,18,11,24,-10,32,10,38,-11,46,10,52,-10,60,11,66,-11,74,10,80,-10,88,11,92,0,3,-5,2,5,97,-4,98,6,4,-9,96];

// ---------- helpers ----------
const FONT = '"Liberation Sans"';
const ITALIC = 'italic 20.5px ' + FONT;
const PLAIN = '20.5px ' + FONT;
const BOLDIT = 'italic bold 20.5px ' + FONT;
const LETTER = 'bold 33px ' + FONT;

function newCanvas(left, top, w, h) {
  const c = document.createElement('canvas');
  c.width = w; c.height = h;
  c.style.left = left + 'px'; c.style.top = top + 'px';
  c.style.width = w + 'px'; c.style.height = h + 'px';
  document.body.appendChild(c);
  return c;
}

function textLayer(items, box) {
  return {
    id: 'textLayer',
    afterDatasetsDraw(chart) {
      const ctx = chart.ctx, xs = chart.scales.x, ys = chart.scales.y;
      ctx.save();
      items.forEach(it => {
        let x, y;
        if (it.page) { x = it.x - box.left; y = it.y - box.top; }
        else { x = xs.getPixelForValue(it.x) + (it.dx || 0); y = ys.getPixelForValue(it.y) + (it.dy || 0); }
        ctx.save();
        ctx.translate(x, y);
        if (it.rot) ctx.rotate(it.rot);
        ctx.font = it.font || ITALIC;
        ctx.fillStyle = it.color || '#1a1a1a';
        ctx.textAlign = it.align || 'left';
        ctx.textBaseline = 'middle';
        const lines = String(it.t).split('|');
        lines.forEach((s, i) => ctx.fillText(s, 0, (i - (lines.length - 1) / 2) * 18.75));
        if (it.sup) {
          const w = ctx.measureText(it.t).width;
          ctx.font = '12.5px ' + FONT;
          ctx.fillText(it.sup, w + 1, -7);
        }
        ctx.restore();
      });
      ctx.restore();
    }
  };
}

function makeChart(box, pad, xr, yr, sets, texts) {
  const c = newCanvas(box.left, box.top, box.w, box.h);
  sets.forEach((s, i) => { s.order = sets.length - i; });
  return new Chart(c, {
    type: 'scatter',
    data: { datasets: sets },
    options: {
      responsive: false, animation: false, events: [],
      layout: { padding: pad, autoPadding: false },
      plugins: { legend: { display: false }, tooltip: { enabled: false } },
      scales: {
        x: { type: 'linear', min: xr[0], max: xr[1], display: false, offset: false },
        y: { type: 'linear', min: yr[0], max: yr[1], reverse: yr[2], display: false, offset: false }
      }
    },
    plugins: [textLayer(texts, box)]
  });
}

function barSet(rows, thickness, color, extra) {
  return Object.assign({ type: 'bar', grouped: false, data: rows, barThickness: thickness, backgroundColor: color, inflateAmount: 0, borderSkipped: false }, extra || {});
}

const nodeRadius = n => 1.5 + 1.3 * Math.sqrt(n);

// ---------- network (a, b) ----------
function drawNetwork() {
  const box = { left: 0, top: 0, w: 2107, h: 595 };
  const idx = {};
  nodeIds.forEach((id, i) => { idx[id] = i; });
  const sets = [];
  const rect = (l, r, t, b, fill, extra) => sets.push(barSet([{ x: (l + r) / 2, y: [t, b] }], r - l, fill, extra));
  rect(11, 859, 0, 293, '#bfe5e6'); rect(11, 859, 296, 591, '#f7f0da');
  rect(913, 1927, 0, 293, '#bfe5e6'); rect(913, 1927, 296, 591, '#f7f0da');
  const frame = c => ({ borderColor: c, borderWidth: 2.5, borderRadius: 18 });
  rect(21, 576, 51, 582, 'rgba(237,209,170,0.5)', frame('rgba(165,160,150,0.7)'));
  rect(597, 850, 51, 582, 'rgba(237,173,178,0.8)', frame('rgba(160,125,125,0.75)'));
  rect(919, 1160, 5, 580, 'rgba(250,178,152,0.5)', frame('rgba(165,160,150,0.7)'));
  rect(1168, 1373, 117, 323, 'rgba(176,127,190,0.4)', frame('rgba(150,150,165,0.7)'));
  rect(1416, 1910, 5, 580, 'rgba(225,153,190,0.5)', frame('rgba(160,155,165,0.7)'));
  const edge = (e, color) => sets.push({
    type: 'line', showLine: true, pointRadius: 0, borderColor: color, borderWidth: e[2], fill: false, tension: 0,
    data: [{ x: nodeX[idx[e[0]]], y: nodeY[idx[e[0]]] }, { x: nodeX[idx[e[1]]], y: nodeY[idx[e[1]]] }]
  });
  blueEdges.forEach(e => edge(e, 'rgba(120,170,228,0.75)'));
  pinkEdges.forEach(e => edge(e, 'rgba(236,100,170,0.85)'));
  sets.push({ data: nodeX.map((x, i) => ({ x, y: nodeY[i] })), pointRadius: nodeCells.map(nodeRadius), pointBackgroundColor: nodeColors, pointBorderWidth: 0 });
  // legend marks
  sets.push({ data: coreLegend.map((v, i) => ({ x: 1993, y: coreLegendY[i] })), pointRadius: coreLegend.map(nodeRadius), pointBackgroundColor: '#000', pointBorderWidth: 0 });
  edgeLegend.forEach((v, i) => rect(1972, 2043, edgeLegendTop[i], edgeLegendBottom[i], '#a9d3fb'));

  const texts = [];
  netLabels.forEach(l => texts.push({ t: l[0], x: l[1], y: l[2], align: l[3] }));
  whiteLabels.forEach(l => texts.push({ t: l[0], x: l[1], y: l[2], align: 'center', color: '#fff' }));
  texts.push({ t: 'a', x: 20, y: 28, font: LETTER }, { t: 'b', x: 878, y: 26, font: LETTER });
  texts.push({ t: 'Sst', x: 36, y: 74, font: BOLDIT }, { t: 'Pvalb', x: 836, y: 74, font: BOLDIT, align: 'right' }, { t: 'Lamp5', x: 937, y: 24, font: BOLDIT }, { t: 'Sncg', x: 1184, y: 136, font: BOLDIT }, { t: 'Vip', x: 1898, y: 24, font: BOLDIT, align: 'right' });
  texts.push({ t: 'L1–L4', x: 859, y: 164, font: 'bold 19px ' + FONT }, { t: 'L5–L6', x: 859, y: 440, font: 'bold 19px ' + FONT });
  texts.push({ t: 'Core|cells', x: 2015, y: 46, font: PLAIN, align: 'center' }, { t: 'Intermediate|cells', x: 2027, y: 376, font: PLAIN, align: 'center' });
  coreLegend.forEach((v, i) => texts.push({ t: v, x: 2037, y: coreLegendY[i] + 3, font: PLAIN }));
  edgeLegend.forEach((v, i) => texts.push({ t: v, x: 2055, y: (edgeLegendTop[i] + edgeLegendBottom[i]) / 2 + 2, font: PLAIN }));
  makeChart(box, 0, [0, 2107], [0, 595, true], sets, texts);
}

// ---------- dendrogram (c, d) ----------
function drawDendro(box, pad, n, merges, marks, texts) {
  const sets = [];
  merges.forEach(m => sets.push({
    type: 'line', showLine: true, pointRadius: 0, borderColor: '#111', borderWidth: 2, fill: false, tension: 0,
    borderJoinStyle: 'miter',
    data: [{ x: m[0], y: m[3] }, { x: m[0], y: m[2] }, { x: m[1], y: m[2] }, { x: m[1], y: m[4] }]
  }));
  marks.forEach(m => sets.push({ data: [{ x: m[0], y: m[1] }], pointRadius: 10.5, pointBackgroundColor: m[2], pointBorderWidth: 0 }));
  makeChart(box, pad, [-0.5, n - 0.5], [0, 156, false], sets, texts);
}

// ---------- strips and cluster labels (c, d) ----------
function drawStrips(box, pad, names, colors, stripLayers, dense, pitch, labelDx) {
  const n = names.length, mid = (n - 1) / 2, full = pitch * n;
  const BAND = 0.895, sets = [], dots = [], dotColors = [];
  layers.forEach((l, i) => sets.push(barSet([{ x: mid, y: [i, i + BAND] }], full, layerColors[i])));
  dense.forEach(d => {
    sets.push(barSet([{ x: d[1], y: [d[0] + 0.025, d[0] + BAND - 0.025] }], 19, colors[d[1]], { borderRadius: 3 }));
    for (let k = 0; k < denseRim.length; k += 2) {
      dots.push({ x: d[1] + denseRim[k] / pitch, y: d[0] + denseRim[k + 1] / 100 * BAND });
      dotColors.push(colors[d[1]]);
    }
  });
  stripLayers.forEach((rows, l) => rows.forEach(row => {
    for (let k = 1; k < row.length; k += 2) {
      dots.push({ x: row[0] + row[k] / pitch, y: l + row[k + 1] / 100 * BAND });
      dotColors.push(colors[row[0]]);
    }
  }));
  sets.push({ data: dots, pointRadius: 2.4, pointBackgroundColor: dotColors, pointBorderWidth: 0 });
  const cols = names.map((s, i) => i);
  sets.push(barSet(cols.map(i => ({ x: i, y: [4.895, 5] })), pitch - 4, colors));
  sets.push(barSet(cols.map(i => ({ x: i, y: [5.02, 9.306] })), pitch - 2.5, '#c9d6d6'));
  sets.push(barSet(cols.map(i => ({ x: i, y: [9.306, 9.55] })), pitch, colors));
  const texts = [];
  layers.forEach((l, i) => texts.push({ t: l, x: -0.5, dx: labelDx, y: i + 0.46, align: 'right', font: PLAIN }));
  names.forEach((s, i) => texts.push({ t: s, x: i, y: 9.27, rot: -Math.PI / 2 }));
  makeChart(box, pad, [-0.5, n - 0.5], [0, 9.55, true], sets, texts);
}

// ---------- violins (e, f) ----------
const PROFILES = {
  b: { dot: .45, p: [[0,.8],[.1,.86],[.5,.95],[.85,.95],[.97,.75],[1,.6]] },
  h: { dot: .6, p: [[0,.55],[.2,.7],[.5,.95],[.8,.95],[.95,.7],[1,.4]] },
  t: { dot: .08, p: [[0,.95],[.12,.85],[.35,.55],[.7,.35],[.92,.25],[1,0]] },
  f: { dot: .75, p: [[0,.03],[.3,.1],[.55,.45],[.8,.95],[.95,.9],[1,.3]] },
  d: { dot: .78, p: [[0,.02],[.45,.04],[.65,.55],[.78,.8],[.9,.5],[1,.1]] },
  D: { dot: .68, p: [[0,.02],[.25,.05],[.5,.6],[.68,.95],[.85,.6],[1,.1]] },
  l: { dot: .84, p: [[.68,.03],[.76,.5],[.84,.9],[.92,.5],[1,.05]] },
  s: { dot: .1, p: [[0,.75],[.1,.45],[.25,.2],[.6,.12],[.9,.06],[1,0]] },
  k: { dot: .03, p: [[0,.65],[.06,.25],[.15,.05],[.55,.02],[.6,0]] }
};
const STEMS = { '.': .12, ':': .45, '|': .95 };
const spriteCache = {};

function violinSprite(code, color, w, h) {
  const key = code + color + w;
  if (spriteCache[key]) return spriteCache[key];
  const c = document.createElement('canvas');
  c.width = Math.round(w); c.height = Math.round(h);
  const g = c.getContext('2d'), cx = c.width / 2, H = c.height;
  const yOf = v => H - 1.5 - v * (H - 3);
  g.lineWidth = 1.1; g.strokeStyle = '#111';
  if (STEMS[code] !== undefined || code === 'k') {
    g.strokeStyle = '#555'; g.lineWidth = 1.4;
    g.beginPath(); g.moveTo(1, H - 1); g.lineTo(c.width - 1, H - 1); g.stroke();
    g.strokeStyle = '#111'; g.lineWidth = 1.1;
  }
  if (STEMS[code] !== undefined) {
    g.beginPath(); g.moveTo(cx, H - 1); g.lineTo(cx, yOf(STEMS[code])); g.stroke();
    g.fillStyle = '#111'; g.beginPath(); g.arc(cx, H - 2, 1.5, 0, 7); g.fill();
  } else {
    const shape = PROFILES[code], half = c.width / 2 - 1;
    g.fillStyle = color;
    g.beginPath();
    shape.p.forEach((q, i) => { const x = cx - q[1] * half, y = yOf(q[0]); i ? g.lineTo(x, y) : g.moveTo(x, y); });
    shape.p.slice().reverse().forEach(q => g.lineTo(cx + q[1] * half, yOf(q[0])));
    g.closePath(); g.fill(); g.stroke();
    g.fillStyle = '#000'; g.beginPath(); g.arc(cx, yOf(shape.dot), 1.7, 0, 7); g.fill();
  }
  spriteCache[key] = c;
  return c;
}

function drawViolins(box, pad, colors, genes, maxCpm, rows, pitch, rowH, letter, headerRows) {
  const n = colors.length, sets = [];
  genes.forEach((g, i) => { if (i % 2 === 0) sets.push(barSet([{ x: (n - 1) / 2, y: [i, i + 1] }], pitch * n, '#c9d6d6')); });
  const pts = [], styles = [];
  rows.forEach((row, r) => {
    row.replace(/ /g, '').split('').forEach((code, col) => {
      pts.push({ x: col, y: r + 0.5 });
      styles.push(violinSprite(code, colors[col], pitch, rowH));
    });
  });
  sets.push({ data: pts, pointStyle: styles, pointRadius: 3, pointBorderWidth: 0 });
  const texts = [];
  genes.forEach((g, i) => {
    texts.push({ t: g, x: -0.5, dx: -8, y: i + 0.5, align: 'right' });
    const parts = maxCpm[i].toExponential(1).split('e+');
    texts.push({ t: parts[0] + '×10', sup: parts[1], x: n - 0.5, dx: 9, y: i + 0.55, font: PLAIN });
  });
  texts.push({ t: 'Max CPM', x: n - 0.5, dx: 9, y: -headerRows, font: PLAIN });
  texts.push({ t: letter[0], x: letter[1], y: letter[2], page: true, font: LETTER });
  makeChart(box, pad, [-0.5, n - 0.5], [0, genes.length, true], sets, texts);
}

// ---------- build page ----------
drawNetwork();

const padL = { left: 108, right: 110, top: 0, bottom: 0 };
const padR = { left: 117, right: 101, top: 0, bottom: 0 };

drawDendro({ left: 0, top: 595, w: 1053, h: 156 }, padL, 31, dendroC,
  [[12.3, 88.7, 'rgba(232,140,50,0.8)'], [26.9, 90, 'rgba(225,70,80,0.8)']],
  [{ t: 'c', x: 20, y: 639, page: true, font: LETTER },
   { t: 'Sst', x: 422, y: 649, page: true, font: BOLDIT, color: '#e08a1e', align: 'center' },
   { t: 'Pvalb', x: 855, y: 644, page: true, font: BOLDIT, color: '#d03030' }]);
drawDendro({ left: 1053, top: 595, w: 1054, h: 156 }, padR, 29, dendroD,
  [[3.36, 100, 'rgba(250,160,170,0.8)'], [8.13, 91, 'rgba(105,40,190,0.8)'], [11.5, 70.3, 'rgba(195,130,250,0.8)'], [18.06, 110.7, 'rgba(215,70,170,0.8)']],
  [{ t: 'd', x: 1074, y: 637, page: true, font: LETTER },
   { t: 'Lamp5', x: 1239, y: 634, page: true, font: BOLDIT, color: '#f58a94', align: 'center' },
   { t: 'Sncg', x: 1381, y: 643, page: true, font: BOLDIT, color: '#5d10c0', align: 'center' },
   { t: 'Serpinf1', x: 1511, y: 659, page: true, font: BOLDIT, color: '#c070f5', align: 'center' },
   { t: 'Vip', x: 1714, y: 626, page: true, font: BOLDIT, color: '#d040a8' }]);

drawStrips({ left: 0, top: 751, w: 1053, h: 592 }, { left: 108, right: 110, top: 4.7, bottom: 0 }, clustersC, colorsC,
  [stripCL1, stripCL2, stripCL4, stripCL5, stripCL6], denseC, 835 / 31, -11);
drawStrips({ left: 1053, top: 751, w: 1054, h: 592 }, { left: 117, right: 101, top: 4.7, bottom: 0 }, clustersD, colorsD,
  [stripDL1, stripDL2, stripDL4, stripDL5, stripDL6], denseD, 836 / 29, -7);

drawViolins({ left: 0, top: 1300, w: 1053, h: 730 }, { left: 108, right: 110, top: 43.5, bottom: 3 }, colorsC, genesE, maxCpmE, violinE, 835 / 31, 24.4, ['e', 18, 1345], 0.53);
drawViolins({ left: 1053, top: 1300, w: 1054, h: 730 }, { left: 117, right: 101, top: 43.5, bottom: 1 }, colorsD, genesF, maxCpmF, violinF, 836 / 29, 26.35, ['f', 1072, 1340], 0.5);
</script>
</body>
</html>
